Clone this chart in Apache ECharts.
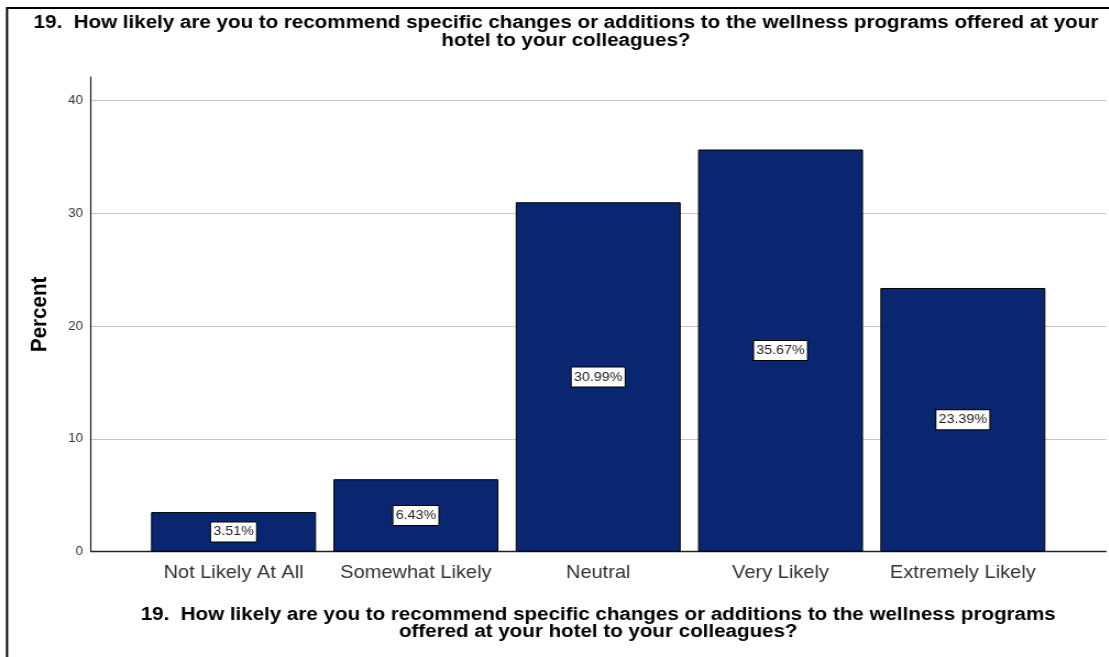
<!DOCTYPE html>
<html>
<head>
<meta charset="utf-8">
<script src="https://cdn.jsdelivr.net/npm/echarts@6/dist/echarts.min.js"></script>
<style>
  html, body { margin: 0; padding: 0; background: #fff; overflow: hidden; }
  #wrap { width: 1109px; height: 657px; overflow: hidden; }
  #chart { height: 657px; transform-origin: 0 0; }
</style>
</head>
<body>
<div id="wrap"><div id="chart"></div></div>
<script>
// Survey question 19: distribution of responses (percent)
const categories = ['Not Likely At All', 'Somewhat Likely', 'Neutral', 'Very Likely', 'Extremely Likely'];
const percents = [3.51, 6.43, 30.99, 35.67, 23.39];
const yTicks = [0, 10, 20, 30, 40];

const questionText = '19.  How likely are you to recommend specific changes or additions to the wellness programs offered at your\nhotel to your colleagues?';
const axisTitle = '19.  How likely are you to recommend specific changes or additions to the wellness programs\noffered at your hotel to your colleagues?';

const FONT = '"Liberation Sans", Arial, Helvetica, sans-serif';
const BAR_COLOR = '#0b2670';

// The export is horizontally widened: draw narrower, then stretch in x.
const SX = 1.1;
const W = 1109;
const el = document.getElementById('chart');
el.style.width = (W / SX) + 'px';
el.style.transform = 'scaleX(' + SX + ')';
const x = v => v / SX;   // final-pixel horizontal length -> drawing units

const chart = echarts.init(el, null, { renderer: 'canvas' });

const yMin = yTicks[0];
const yMax = yTicks[yTicks.length - 1];
const yStep = yTicks[1] - yTicks[0];

chart.setOption({
  backgroundColor: '#ffffff',
  animation: false,
  title: {
    text: questionText,
    left: x(566),
    top: 14,
    padding: 0,
    textAlign: 'center',
    textStyle: {
      fontFamily: FONT, fontSize: 18.7, fontWeight: 'bold', color: '#000', lineHeight: 18
    }
  },
  graphic: [{
    type: 'rect',
    shape: { x: x(7), y: 8, width: 1200, height: 800 },
    style: { fill: 'none', stroke: '#000', lineWidth: 2 },
    silent: true, z: 100
  }],
  grid: [
    // full-height axis line (extends slightly above the top tick)
    { left: x(91), right: x(3), top: 77, bottom: 105.3, containLabel: false },
    // gridlines and tick labels
    { left: x(91), right: x(3), top: 100.7, bottom: 105.3, containLabel: false },
    // bars
    { left: x(142.4), right: x(54.8), top: 100.7, bottom: 105.3, containLabel: false }
  ],
  xAxis: [
    { gridIndex: 0, type: 'value', show: false, min: 0, max: 1 },
    {
      gridIndex: 1, type: 'value', min: 0, max: 1,
      axisLine: { show: true, lineStyle: { color: '#222', width: 1.3 } },
      axisTick: { show: false }, axisLabel: { show: false }, splitLine: { show: false }
    },
    {
      gridIndex: 2, type: 'category', data: categories,
      axisLine: { show: false }, axisTick: { show: false },
      axisLabel: {
        interval: 0,
        fontFamily: FONT, fontSize: 18.2, color: '#333', margin: 12
      },
      name: axisTitle,
      nameLocation: 'middle',
      nameGap: 55,
      nameTextStyle: {
        fontFamily: FONT, fontSize: 18.7, fontWeight: 'bold', color: '#000', lineHeight: 17
      }
    }
  ],
  yAxis: [
    {
      gridIndex: 0, type: 'value', min: 0, max: 1,
      axisLine: { show: true, onZero: false, lineStyle: { color: '#222', width: 1.2 } },
      axisTick: { show: false }, axisLabel: { show: false }, splitLine: { show: false },
      name: 'Percent',
      nameLocation: 'middle',
      nameGap: x(40),
      nameRotate: 90,
      nameTextStyle: { fontFamily: FONT, fontSize: 20.5, fontWeight: 'bold', color: '#000' }
    },
    {
      gridIndex: 1, type: 'value', min: yMin, max: yMax, interval: yStep,
      axisLine: { show: false }, axisTick: { show: false },
      axisLabel: { fontFamily: FONT, fontSize: 12, color: '#333', margin: x(8) },
      splitLine: { show: true, lineStyle: { color: '#c4c4c4', width: 1.2 } }
    },
    {
      gridIndex: 2, type: 'value', min: yMin, max: yMax, show: false
    }
  ],
  series: [{
    type: 'bar',
    xAxisIndex: 2,
    yAxisIndex: 2,
    data: percents,
    barWidth: x(165),
    itemStyle: { color: BAR_COLOR, borderColor: '#000', borderWidth: 1 },
    label: {
      show: true,
      position: 'inside',
      formatter: p => p.value.toFixed(2) + '%',
      fontFamily: FONT, fontSize: 13, color: '#222',
      backgroundColor: '#fff', borderColor: '#000', borderWidth: 1,
      padding: [3, 2, 3, 2]
    }
  }]
});
</script>
</body>
</html>
